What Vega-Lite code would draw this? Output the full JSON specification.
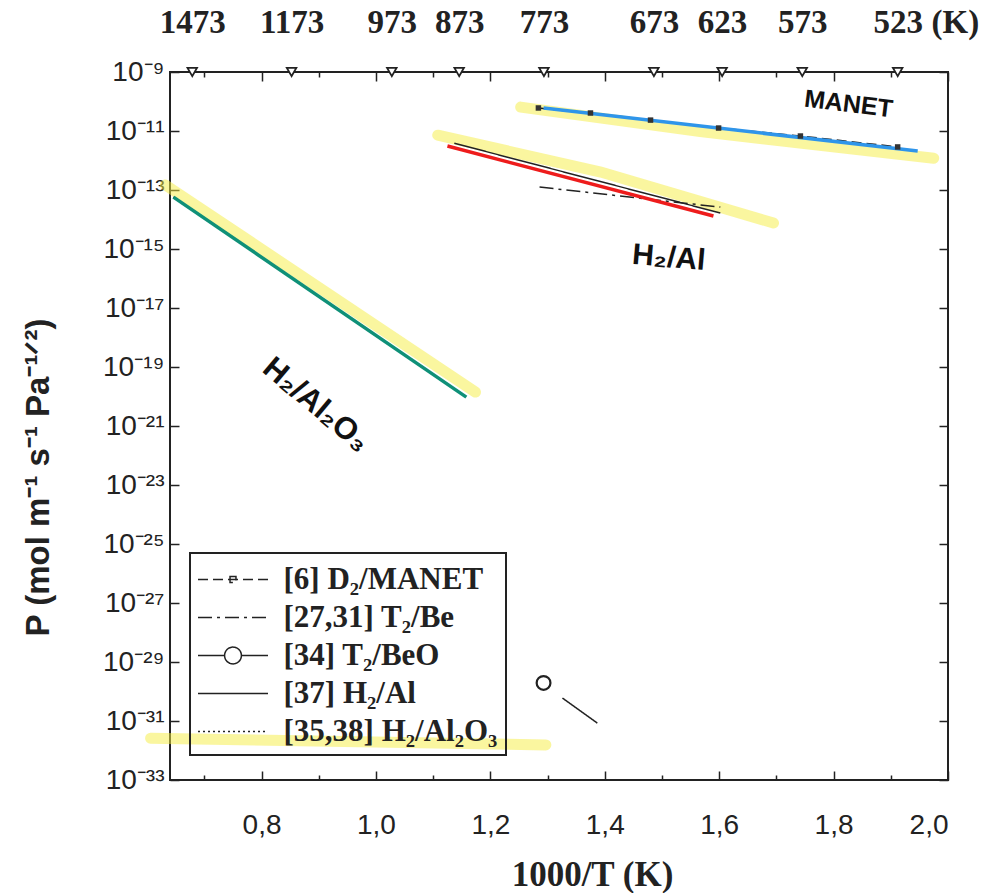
{
  "$schema": "https://vega.github.io/schema/vega-lite/v6.json",
  "width": 778,
  "height": 708,
  "autosize": "none",
  "padding": {"left": 170, "top": 72, "right": 34, "bottom": 113},
  "background": "white",
  "config": {
    "view": {"stroke": "#222", "strokeWidth": 2},
    "axis": {"domain": false, "grid": false, "labelColor": "#222", "tickColor": "#222", "tickWidth": 1.5, "titleColor": "#222"}
  },
  "datasets": {
    "bands": [
      {"b": "al2o3", "x": 0.632, "P": 1.48e-13},
      {"b": "al2o3", "x": 1.174, "P": 1.41e-20},
      {"b": "al", "x": 1.108, "P": 7.24e-12},
      {"b": "al", "x": 1.393, "P": 4.07e-13},
      {"b": "al", "x": 1.695, "P": 7.6e-15},
      {"b": "manet", "x": 1.253, "P": 6.46e-11},
      {"b": "manet", "x": 1.567, "P": 9.5e-12},
      {"b": "manet", "x": 1.975, "P": 1.2e-12},
      {"b": "legend", "x": 0.606, "P": 2.6e-32},
      {"b": "legend", "x": 1.297, "P": 1.55e-32}
    ],
    "series": [
      {"s": "[6] D₂/MANET", "x": 1.284, "P": 6.03e-11},
      {"s": "[6] D₂/MANET", "x": 1.375, "P": 4.07e-11},
      {"s": "[6] D₂/MANET", "x": 1.480, "P": 2.34e-11},
      {"s": "[6] D₂/MANET", "x": 1.599, "P": 1.26e-11},
      {"s": "[6] D₂/MANET", "x": 1.742, "P": 6.76e-12},
      {"s": "[6] D₂/MANET", "x": 1.912, "P": 2.88e-12},
      {"s": "[27,31] T₂/Be", "x": 1.286, "P": 1.26e-13},
      {"s": "[27,31] T₂/Be", "x": 1.602, "P": 2.63e-14},
      {"s": "[34] T₂/BeO", "x": 1.326, "P": 6.0e-31},
      {"s": "[34] T₂/BeO", "x": 1.387, "P": 8.5e-32},
      {"s": "[37] H₂/Al", "x": 1.137, "P": 3.85e-12},
      {"s": "[37] H₂/Al", "x": 1.602, "P": 1.66e-14},
      {"s": "[35,38] H₂/Al₂O₃", "x": 0.646, "P": 5.75e-14},
      {"s": "[35,38] H₂/Al₂O₃", "x": 1.158, "P": 9.5e-21}
    ],
    "colored": [
      {"c": "blue", "x": 1.293, "P": 6.03e-11},
      {"c": "blue", "x": 1.947, "P": 2.09e-12},
      {"c": "red", "x": 1.125, "P": 3.09e-12},
      {"c": "red", "x": 1.590, "P": 1.32e-14},
      {"c": "green", "x": 0.646, "P": 5.75e-14},
      {"c": "green", "x": 1.158, "P": 9.5e-21}
    ],
    "manetPts": [
      {"x": 1.284, "P": 6.03e-11},
      {"x": 1.375, "P": 4.07e-11},
      {"x": 1.480, "P": 2.34e-11},
      {"x": 1.599, "P": 1.26e-11},
      {"x": 1.742, "P": 6.76e-12},
      {"x": 1.912, "P": 2.88e-12}
    ],
    "beo": [{"x": 1.293, "P": 1.95e-30}],
    "temps": [
      {"x": 0.67889, "P": 1e-9},
      {"x": 0.85251, "P": 1e-9},
      {"x": 1.02775, "P": 1e-9},
      {"x": 1.14548, "P": 1e-9},
      {"x": 1.29366, "P": 1e-9},
      {"x": 1.48588, "P": 1e-9},
      {"x": 1.60514, "P": 1e-9},
      {"x": 1.74520, "P": 1e-9},
      {"x": 1.91205, "P": 1e-9}
    ],
    "notes": [
      {"t": "MANET", "x": 1.826, "P": 8.3e-11},
      {"t": "H₂/Al", "x": 1.512, "P": 5.0e-16},
      {"t": "H₂/Al₂O₃", "x": 0.895, "P": 5.1e-21}
    ]
  },
  "layer": [
    {
      "data": {"name": "bands"},
      "mark": {"type": "line", "color": "#f5ee40", "opacity": 0.5, "strokeWidth": 11, "strokeCap": "round"},
      "encoding": {
        "x": {
          "field": "x", "type": "quantitative",
          "scale": {"domain": [0.64, 2.0], "nice": false, "zero": false},
          "axis": {
            "orient": "bottom", "values": [0.8, 1.0, 1.2, 1.4, 1.6, 1.8, 2.0],
            "labelExpr": "replace(format(datum.value, '.1f'), '.', ',')",
            "labelFont": "Liberation Sans", "labelFontSize": 28, "labelPadding": 31, "tickSize": 9, "offset": -9,
            "title": "1000/T (K)", "titleFont": "Liberation Serif", "titleFontSize": 35, "titleFontWeight": "bold",
            "titleX": 422, "titleY": 103, "titleBaseline": "middle"
          }
        },
        "y": {
          "field": "P", "type": "quantitative",
          "scale": {"type": "log", "domain": [1e-33, 1e-9], "nice": false},
          "axis": {
            "orient": "left",
            "values": [1e-9, 1e-11, 1e-13, 1e-15, 1e-17, 1e-19, 1e-21, 1e-23, 1e-25, 1e-27, 1e-29, 1e-31, 1e-33],
            "labelExpr": "'10⁻' + (round(-log(datum.value)/LN10) >= 10 ? substring('⁰¹²³⁴⁵⁶⁷⁸⁹', floor(round(-log(datum.value)/LN10)/10), floor(round(-log(datum.value)/LN10)/10)+1) : '') + substring('⁰¹²³⁴⁵⁶⁷⁸⁹', round(-log(datum.value)/LN10) % 10, round(-log(datum.value)/LN10) % 10 + 1)",
            "labelFont": "Liberation Sans", "labelFontSize": 28, "labelPadding": 6, "tickSize": 9, "offset": -9,
            "title": "P (mol m⁻¹ s⁻¹ Pa⁻¹ᐟ²)", "titleFont": "Liberation Sans", "titleFontSize": 33, "titleFontWeight": "bold",
            "titleX": -141, "titleY": 405, "titleBaseline": "middle"
          }
        },
        "detail": {"field": "b"}
      }
    },
    {
      "data": {"name": "series"},
      "mark": {"type": "line", "color": "#222", "strokeWidth": 1.5},
      "encoding": {
        "x": {"field": "x", "type": "quantitative", "axis": null},
        "y": {"field": "P", "type": "quantitative", "axis": null},
        "strokeDash": {
          "field": "s", "type": "nominal",
          "scale": {
            "domain": ["[6] D₂/MANET", "[27,31] T₂/Be", "[34] T₂/BeO", "[37] H₂/Al", "[35,38] H₂/Al₂O₃"],
            "range": [[10, 5], [14, 5, 3, 5], [1, 0], [1, 0], [2, 3]]
          },
          "legend": {
            "orient": "none", "legendX": 20, "legendY": 481, "title": null,
            "symbolType": "M-2,0H2", "symbolSize": 1225, "symbolOffset": 16.5, "symbolStrokeWidth": 1.5, "symbolStrokeColor": "#222",
            "labelFont": "Liberation Serif", "labelFontSize": 31, "labelFontWeight": "bold", "labelColor": "#222",
            "labelOffset": 32, "labelLimit": 400, "rowPadding": 4, "padding": 8,
            "strokeColor": "#222",
            "encode": {
              "legend": {"update": {"strokeWidth": {"value": 2}}},
              "symbols": {"update": {"shape": {"signal": "datum.value === '[34] T₂/BeO' ? 'M-2,0H-0.48M0.48,0H2M0.48,0A0.48,0.48 0 1,1 -0.48,0A0.48,0.48 0 1,1 0.48,0' : (datum.value === '[6] D₂/MANET' ? 'M-2,0H2M-0.17,-0.17H0.17V0.17H-0.17Z' : 'M-2,0H2')"}}}
            }
          }
        }
      }
    },
    {
      "data": {"name": "colored"},
      "mark": {"type": "line", "strokeWidth": 3.5},
      "encoding": {
        "x": {
          "field": "x", "type": "quantitative",
          "axis": {
            "orient": "top", "values": [0.8, 1.0, 1.2, 1.4, 1.6, 1.8, 2.0],
            "labels": false, "tickSize": 9, "offset": -9, "title": null
          }
        },
        "y": {
          "field": "P", "type": "quantitative",
          "axis": {
            "orient": "right", "values": [1e-9, 1e-11, 1e-13, 1e-15, 1e-17, 1e-19, 1e-21, 1e-23, 1e-25, 1e-27, 1e-29, 1e-31, 1e-33],
            "labels": false, "tickSize": 9, "offset": -9, "title": null
          }
        },
        "color": {
          "field": "c", "type": "nominal",
          "scale": {"domain": ["blue", "red", "green"], "range": ["#2f95ea", "#ee1c1c", "#0f9078"]},
          "legend": null
        }
      }
    },
    {
      "data": {"name": "manetPts"},
      "mark": {"type": "point", "shape": "square", "filled": true, "color": "#333", "size": 30, "opacity": 1},
      "encoding": {
        "x": {
          "field": "x", "type": "quantitative",
          "axis": {"orient": "bottom", "values": [0.7, 0.9, 1.1, 1.3, 1.5, 1.7, 1.9], "labels": false, "tickSize": 5, "offset": -5, "title": null}
        },
        "y": {"field": "P", "type": "quantitative", "axis": null}
      }
    },
    {
      "data": {"name": "beo"},
      "mark": {"type": "point", "shape": "circle", "filled": false, "color": "#222", "strokeWidth": 2.2, "size": 190, "opacity": 1},
      "encoding": {
        "x": {
          "field": "x", "type": "quantitative",
          "axis": {"orient": "top", "values": [0.7, 0.9, 1.1, 1.3, 1.5, 1.7, 1.9], "labels": false, "tickSize": 5, "offset": -5, "title": null}
        },
        "y": {"field": "P", "type": "quantitative", "axis": null}
      }
    },
    {
      "data": {"name": "temps"},
      "mark": {"type": "point", "shape": "triangle-down", "filled": true, "fill": "white", "stroke": "#222", "strokeWidth": 1.8, "size": 90, "opacity": 1},
      "encoding": {
        "x": {
          "field": "x", "type": "quantitative",
          "axis": {
            "orient": "top", "values": [0.67889, 0.85251, 1.02775, 1.14548, 1.29366, 1.48588, 1.60514, 1.74520, 1.91205],
            "labelExpr": "format(round(1000/datum.value), 'd')",
            "ticks": false, "tickSize": 0, "labelPadding": 33,
            "labelFont": "Liberation Serif", "labelFontSize": 33, "labelFontWeight": "bold",
            "title": "(K)", "titleFont": "Liberation Serif", "titleFontSize": 33, "titleFontWeight": "bold",
            "titleX": 761, "titleY": -33, "titleAlign": "left", "titleBaseline": "bottom", "titleAngle": 0
          }
        },
        "y": {"field": "P", "type": "quantitative", "axis": null}
      }
    },
    {
      "data": {"name": "notes"},
      "transform": [{"filter": "datum.t === 'MANET'"}],
      "mark": {"type": "text", "font": "Liberation Sans", "fontWeight": "bold", "fontSize": 25, "angle": 7, "color": "#111"},
      "encoding": {
        "x": {"field": "x", "type": "quantitative", "axis": null},
        "y": {"field": "P", "type": "quantitative", "axis": null},
        "text": {"field": "t"}
      }
    },
    {
      "data": {"name": "notes"},
      "transform": [{"filter": "datum.t === 'H₂/Al'"}],
      "mark": {"type": "text", "font": "Liberation Sans", "fontWeight": "bold", "fontSize": 30, "angle": 5, "color": "#111"},
      "encoding": {
        "x": {"field": "x", "type": "quantitative", "axis": null},
        "y": {"field": "P", "type": "quantitative", "axis": null},
        "text": {"field": "t"}
      }
    },
    {
      "data": {"name": "notes"},
      "transform": [{"filter": "datum.t === 'H₂/Al₂O₃'"}],
      "mark": {"type": "text", "font": "Liberation Sans", "fontWeight": "bold", "fontSize": 31, "angle": 40, "color": "#111"},
      "encoding": {
        "x": {"field": "x", "type": "quantitative", "axis": null},
        "y": {"field": "P", "type": "quantitative", "axis": null},
        "text": {"field": "t"}
      }
    }
  ],
  "resolve": {"axis": {"x": "independent", "y": "independent"}}
}
